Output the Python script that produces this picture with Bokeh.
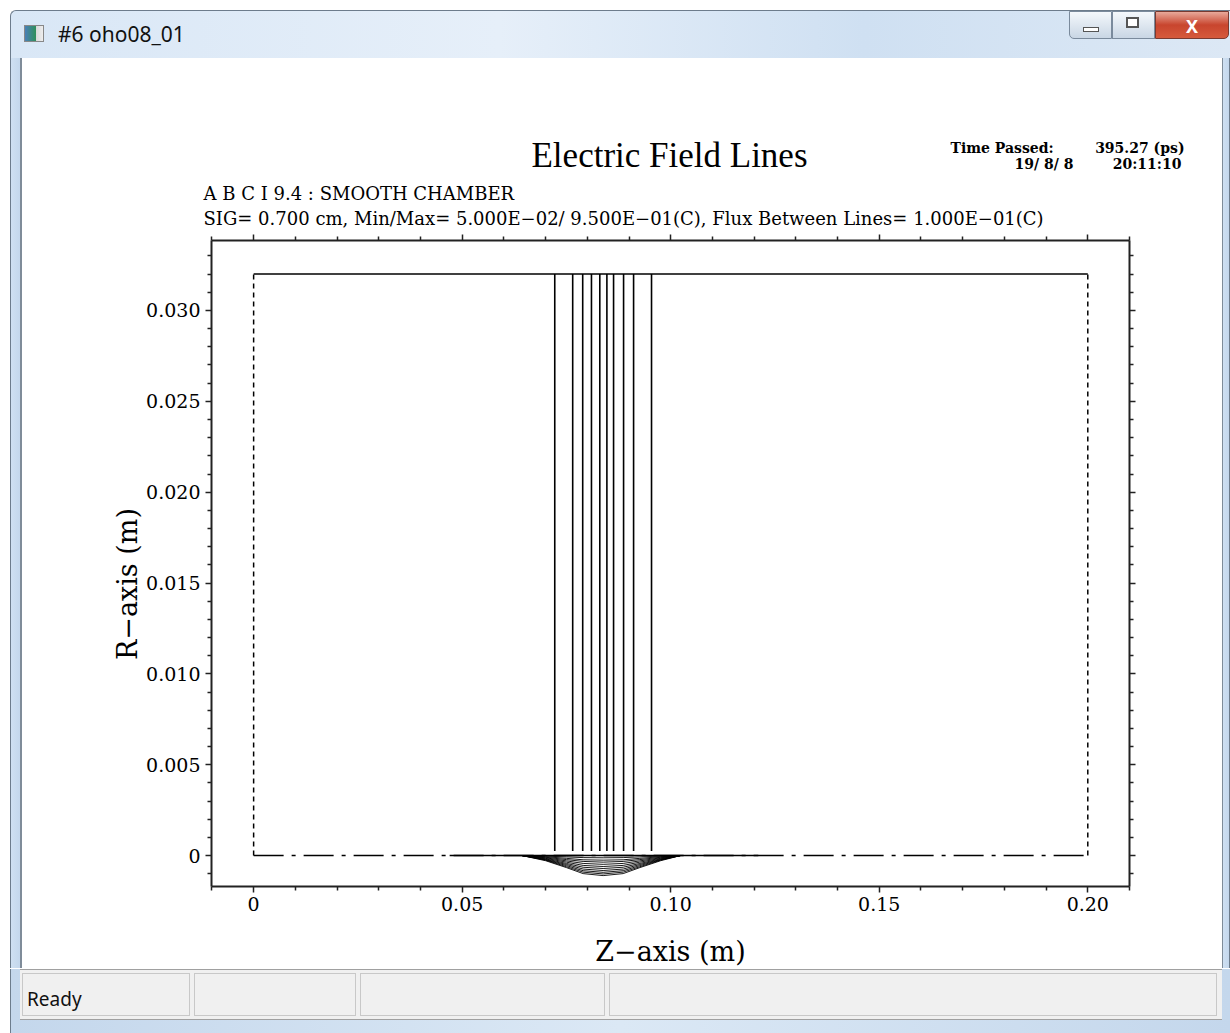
import math
from bokeh.plotting import figure
from bokeh.models import LinearAxis, FixedTicker, Range1d, Div, CustomJSTickFormatter
from bokeh.layouts import column, row
from bokeh.core.properties import value
from bokeh.embed import file_html
from bokeh.resources import INLINE

# ---------------- data (metres) ----------------
chamber_length = 0.20          # Z extent of the smooth chamber
chamber_radius = 0.032         # R of the chamber wall
# Z positions where the 10 electric field lines reach the wall
field_line_z = [0.0722, 0.0765, 0.0789, 0.0810, 0.0830, 0.0847, 0.0863, 0.0887, 0.0911, 0.0954]
field_line_r_end = 0.00025     # lower end of the straight parts
# solid part of field lines lying on the axis
axis_field_z = [0.047, 0.121]
# bunch region below the axis: sample Z points and depth (mm) of each nested curve
bunch_z = [0.0644, 0.0700, 0.0750, 0.0790, 0.0838, 0.0886, 0.0926, 0.0976, 0.1023]
bunch_depth_mm = [
    [0, 0.28, 0.66, 0.99, 1.10, 0.99, 0.66, 0.28, 0],
    [0, 0.25, 0.61, 0.91, 1.01, 0.91, 0.61, 0.25, 0],
    [0, 0.23, 0.55, 0.83, 0.92, 0.83, 0.55, 0.23, 0],
    [0, 0.21, 0.49, 0.74, 0.82, 0.74, 0.49, 0.21, 0],
    [0, 0.18, 0.43, 0.64, 0.71, 0.64, 0.43, 0.18, 0],
    [0, 0.15, 0.36, 0.54, 0.60, 0.54, 0.36, 0.15, 0],
    [0, 0.12, 0.29, 0.43, 0.48, 0.43, 0.29, 0.12, 0],
    [0, 0.09, 0.22, 0.32, 0.36, 0.32, 0.22, 0.09, 0],
    [0, 0.06, 0.15, 0.23, 0.25, 0.23, 0.15, 0.06, 0],
    [0, 0.03, 0.07, 0.11, 0.12, 0.11, 0.07, 0.03, 0],
]

x_major_ticks = [0.0, 0.05, 0.10, 0.15, 0.20]
x_tick_labels = ["0", "0.05", "0.10", "0.15", "0.20"]
x_minor_ticks = [-0.01, 0.01, 0.02, 0.03, 0.04, 0.06, 0.07, 0.08, 0.09, 0.11, 0.12, 0.13,
                 0.14, 0.16, 0.17, 0.18, 0.19, 0.21]
y_major_ticks = [0.0, 0.005, 0.010, 0.015, 0.020, 0.025, 0.030]
y_tick_labels = ["0", "0.005", "0.010", "0.015", "0.020", "0.025", "0.030"]
y_minor_ticks = [-0.001, 0.001, 0.002, 0.003, 0.004, 0.006, 0.007, 0.008, 0.009, 0.011, 0.012,
                 0.013, 0.014, 0.016, 0.017, 0.018, 0.019, 0.021, 0.022, 0.023, 0.024, 0.026,
                 0.027, 0.028, 0.029, 0.031, 0.032, 0.033]

title_text = "Electric Field Lines"
sub1_text = "A B C I 9.4 : SMOOTH CHAMBER"
sub2_text = "SIG= 0.700 cm,  Min/Max= 5.000E\u221202/ 9.500E\u221201(C),  Flux Between Lines= 1.000E\u221201(C)"
time_label = "Time Passed:"
time_value = "395.27 (ps)"
date_text = "19/ 8/ 8"
clock_text = "20:11:10"
x_label = "Z\u2212axis (m)"
y_label = "R\u2212axis (m)"

SERIF = "DejaVu Serif"
TITLE_FONT = "Liberation Serif"

# ---------------- header (titles) ----------------
HW, HH = 1200, 172
hdr = figure(width=HW, height=HH, x_range=Range1d(0, HW), y_range=Range1d(HH, 0),
             output_backend="svg", toolbar_location=None, x_axis_location=None,
             y_axis_location=None, min_border=0, title=None)
hdr.outline_line_color = None
hdr.grid.visible = False
hdr.border_fill_color = "white"

def htext(x, y, t, size, font, align="left", style="normal"):
    hdr.text(x=[x], y=[y], text=[t], text_font=value(font), text_font_size=size,
             text_align=align, text_baseline="middle", text_color="black",
             text_font_style=style)

htext(647, 97, title_text, "35px", TITLE_FONT, "center")
htext(181, 135, sub1_text, "18px", SERIF)
htext(181, 160, sub2_text, "18px", SERIF)
htext(928, 89, time_label, "14px", SERIF, "left", "bold")
htext(1162, 89, time_value, "14px", SERIF, "right", "bold")
htext(992, 105, date_text, "14px", SERIF, "left", "bold")
htext(1159, 105, clock_text, "14px", SERIF, "right", "bold")

# ---------------- y label strip ----------------
LW, MH = 120, 739
ylab = figure(width=LW, height=MH, x_range=Range1d(0, LW), y_range=Range1d(0, MH),
              output_backend="svg", toolbar_location=None, x_axis_location=None,
              y_axis_location=None, min_border=0, title=None)
ylab.outline_line_color = None
ylab.grid.visible = False
ylab.text(x=[105], y=[346], text=[y_label], text_font=value(SERIF), text_font_size="27px",
          text_align="center", text_baseline="middle", angle=math.pi / 2, text_color="black")

# ---------------- main plot ----------------
X0, X1 = -0.0101, 0.2100
Y0, Y1 = -0.0017, 0.03385
p = figure(width=1200 - LW, height=MH, x_range=Range1d(X0, X1), y_range=Range1d(Y0, Y1),
           output_backend="svg", toolbar_location=None, title=None,
           min_border_left=69, min_border_right=93, min_border_top=10, min_border_bottom=82)
p.outline_line_color = None
p.grid.visible = False
p.background_fill_color = "white"
p.border_fill_color = "white"

blank = CustomJSTickFormatter(code="return '';")

def style_axis(ax, show_labels):
    ax.axis_line_color = "#222222"
    ax.axis_line_width = 2
    ax.major_tick_line_color = "#222222"
    ax.minor_tick_line_color = "#222222"
    ax.major_tick_line_width = 1.5
    ax.minor_tick_line_width = 1.5
    ax.major_tick_out = 6
    ax.major_tick_in = 0
    ax.minor_tick_out = 4
    ax.minor_tick_in = 0
    ax.major_label_text_font = SERIF
    ax.major_label_text_color = "black"
    if show_labels:
        ax.major_label_text_font_size = "19px"
        ax.major_label_standoff = 5
    else:
        ax.formatter = blank
        ax.major_label_text_font_size = "0px"
        ax.major_label_standoff = 0

xt = FixedTicker(ticks=x_major_ticks, minor_ticks=x_minor_ticks)
yt = FixedTicker(ticks=y_major_ticks, minor_ticks=y_minor_ticks)

xa = p.xaxis[0]
xa.ticker = xt
xa.major_label_overrides = dict(zip(x_major_ticks, x_tick_labels))
style_axis(xa, True)
xa.major_label_standoff = 4
xa.axis_label = x_label
xa.axis_label_text_font = SERIF
xa.axis_label_text_font_style = "normal"
xa.axis_label_text_font_size = "27px"
xa.axis_label_text_color = "black"
xa.axis_label_standoff = 22

ya = p.yaxis[0]
ya.ticker = yt
ya.major_label_overrides = dict(zip(y_major_ticks, y_tick_labels))
style_axis(ya, True)

top_ax = LinearAxis(ticker=xt)
style_axis(top_ax, False)
p.add_layout(top_ax, "above")
right_ax = LinearAxis(ticker=yt)
style_axis(right_ax, False)
p.add_layout(right_ax, "right")

# chamber boundary
p.line([0, chamber_length], [chamber_radius, chamber_radius], line_color="black", line_width=1.5)
p.line([0, 0], [0, chamber_radius], line_color="black", line_width=1.5, line_dash="5 4")
p.line([chamber_length, chamber_length], [0, chamber_radius], line_color="black",
       line_width=1.5, line_dash="5 4")
p.line([0, chamber_length], [0, 0], line_color="black", line_width=1.5, line_dash="30 8 4 8")

# field lines
p.multi_line([[z, z] for z in field_line_z],
             [[field_line_r_end, chamber_radius] for _ in field_line_z],
             line_color="black", line_width=1.6)
p.line(axis_field_z, [0, 0], line_color="black", line_width=1.5)
p.multi_line([bunch_z for _ in bunch_depth_mm],
             [[-d * 1e-3 for d in arc] for arc in bunch_depth_mm],
             line_color="black", line_width=0.9)

# ---------------- window chrome ----------------
title_bar = Div(width=1230, height=58, margin=0, styles={"overflow": "hidden"}, text=(
    '<div style="position:relative;width:1230px;height:58px;background:#ffffff;overflow:hidden;">'
    '<div style="position:absolute;left:10px;top:10px;width:1220px;height:48px;border-top-left-radius:6px;'
    'background:linear-gradient(to right,#d9e7f6 0%,#e6eff9 40%,#cfe0f2 70%,#dce8f5 100%);'
    'border-left:1px solid #6d7c8c;border-top:1px solid #6d7c8c;"></div>'
    '<div style="position:absolute;left:24px;top:25px;width:20px;height:17px;'
    'background:linear-gradient(to right,#4a7fb8 0%,#2f8f5a 60%,#d8d8d8 61%,#eeeeee 100%);'
    'border:1px solid #888;"></div>'
    '<div style="position:absolute;left:58px;top:19px;font-family:\'Noto Sans\';font-size:21px;color:#111;">#6 oho08_01</div>'
    '<div style="position:absolute;left:1069px;top:11px;width:43px;height:28px;border:1px solid #7a8a9c;'
    'border-radius:0 0 0 5px;background:linear-gradient(#f4f8fc,#c9d6e4);"></div>'
    '<div style="position:absolute;left:1083px;top:27px;width:16px;height:5px;border:1px solid #555;background:#fff;"></div>'
    '<div style="position:absolute;left:1112px;top:11px;width:43px;height:28px;border:1px solid #7a8a9c;'
    'background:linear-gradient(#f4f8fc,#c9d6e4);"></div>'
    '<div style="position:absolute;left:1126px;top:17px;width:13px;height:11px;border:2px solid #555;background:#fff;"></div>'
    '<div style="position:absolute;left:1155px;top:11px;width:74px;height:28px;border:1px solid #7a3a30;'
    'border-radius:0 0 5px 0;background:linear-gradient(#e9a99a,#c8452e 50%,#d65a3c);'
    'color:#fff;font-family:\'Noto Sans\';font-weight:bold;font-size:18px;text-align:center;line-height:28px;">X</div>'
    '</div>'))

left_strip = Div(width=22, height=910, margin=0, styles={"overflow": "hidden"}, text=(
    '<div style="width:22px;height:910px;background:linear-gradient(to right,#ffffff 0px,#ffffff 10px,'
    '#6d7c8c 10px,#6d7c8c 11px,#cfe0f2 11px,#c4d7ec 20px,#7f8c99 20px,#7f8c99 22px);"></div>'))
right_strip = Div(width=8, height=910, margin=0, styles={"overflow": "hidden"}, text=(
    '<div style="width:8px;height:910px;background:linear-gradient(to right,#7f8c99 0px,#7f8c99 1px,'
    '#cfe0f2 1px,#c4d7ec 7px,#6d7c8c 7px);"></div>'))

status_bar = Div(width=1230, height=64, margin=0, styles={"overflow": "hidden"}, text=(
    '<div style="position:relative;width:1230px;height:64px;background:#ffffff;overflow:hidden;">'
    '<div style="position:absolute;left:10px;top:0px;width:1220px;height:64px;'
    'background:linear-gradient(to right,#c4d7ec,#dbe8f5 50%,#c4d7ec);border-left:1px solid #6d7c8c;"></div>'
    '<div style="position:absolute;left:20px;top:0px;width:1202px;height:51px;background:#f0f0f0;'
    'border-top:1px solid #a0a0a0;border-bottom:1px solid #a0a0a0;"></div>'
    '<div style="position:absolute;left:22px;top:4px;width:168px;height:43px;border:1px solid #c8c8c8;"></div>'
    '<div style="position:absolute;left:194px;top:4px;width:162px;height:43px;border:1px solid #c8c8c8;"></div>'
    '<div style="position:absolute;left:360px;top:4px;width:245px;height:43px;border:1px solid #c8c8c8;"></div>'
    '<div style="position:absolute;left:609px;top:4px;width:608px;height:43px;border:1px solid #c8c8c8;"></div>'
    '<div style="position:absolute;left:27px;top:17px;font-family:\'Noto Sans\';font-size:19px;color:#111;">Ready</div>'
    '</div>'))

middle = column(hdr, row(ylab, p, spacing=0), spacing=0)
layout = column(title_bar, row(left_strip, middle, right_strip, spacing=0), status_bar, spacing=0)

html = file_html(layout, INLINE)
html = html.replace("<head>", "<head><style>html,body{margin:0;padding:0;}</style>", 1)
open("out.html", "w").write(html)
